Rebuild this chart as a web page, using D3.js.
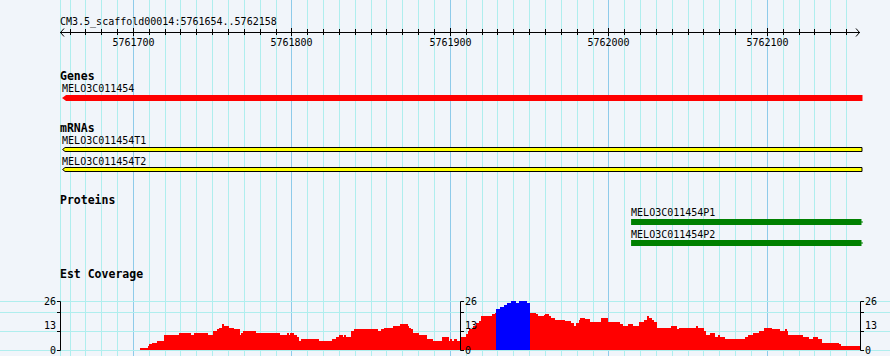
<!DOCTYPE html>
<html>
<head>
<meta charset="utf-8">
<script src="https://cdn.jsdelivr.net/npm/d3@7"></script>
<style>
  html, body { margin: 0; padding: 0; background: #f1f5fa; }
  svg { display: block; }
  text { font-family: "DejaVu Sans Mono", monospace; fill: #000; }
</style>
</head>
<body>
<svg id="chart" width="890" height="356"></svg>
<script>
// ---------- data ----------
const regionName = "CM3.5_scaffold00014";
const regionStart = 5761654;
const regionEnd = 5762158;
const majorTicks = [5761700, 5761800, 5761900, 5762000, 5762100];

const trackTitles = ["Genes", "mRNAs", "Proteins", "Est Coverage"];

const geneNames = ["MELO3C011454"];
const geneStarts = [5761655];
const geneEnds = [5762160];

const mrnaNames = ["MELO3C011454T1", "MELO3C011454T2"];
const mrnaStarts = [5761655, 5761655];
const mrnaEnds = [5762160, 5762160];

const proteinNames = ["MELO3C011454P1", "MELO3C011454P2"];
const proteinStarts = [5762014, 5762014];
const proteinEnds = [5762160, 5762160];

// EST coverage: step starts (offset from regionStart, bp) and coverage values
const covOffsets = [50,55,56,58,61,65,75,82,84,93,96,99,100,102,103,106,109,113,114,115,123,138,143,144,145,147,149,150,152,163,171,174,176,178,179,180,183,185,200,202,204,210,214,219,220,221,222,226,231,235,241,245,246,247,248,250,253,256,257,258,260,262,264,265,272,274,275,277,280,282,284,287,289,294,296,300,301,305,306,308,309,312,318,322,324,325,327,328,331,334,341,345,353,355,358,361,365,368,370,371,373,374,376,385,389,390,401,402,406,407,410,413,415,416,419,432,434,437,441,444,449,454,457,458,459,468,472,475,478,480,491,492];
const covValues  = [1,2,3,4,5,8,9,8,9,8,10,11,12,14,13,12,11,8,9,10,9,8,9,8,9,8,7,5,6,5,6,7,8,7,8,7,10,11,10,11,12,13,14,13,12,11,9,8,6,5,7,5,6,5,6,5,7,8.5,10,11,13,14.5,15.5,18,19,20,22,23,24,25,26,25,26,25,20,19,18,18.5,19,18,17,16,15.5,14.5,13,14.5,16,17,16.5,15,17,15,14,13,14,13,15,16,18,17,16,15,12,13,11,12,13,12,10,8,9,7,8,7,6,7,8,9,10,12,11,10,11,10,8,7,6,7,6,4,3,2];
const covEndOffset = 504;
const covHighlight = [275, 296];   // offsets of the highlighted (blue) stretch
const covMax = 26;
const covTicks = [0, 10, 20, 26];
const covLabels = [0, 13, 26];

// ---------- drawing ----------
const W = 890, H = 356;
const svg = d3.select("#chart");
const crisp = v => Math.floor(v) + 0.5;

const x = d3.scaleLinear().domain([regionStart, regionEnd + 1]).range([60.5, 860.9]);
const yC = d3.scaleLinear().domain([0, covMax]).range([350, 301.3]);

// background
svg.append("rect").attr("width", W).attr("height", H).attr("fill", "#f1f5fa");

// vertical grid
const gridG = svg.append("g");
gridG.append("line").attr("x1", 60.5).attr("x2", 60.5).attr("y1", 0).attr("y2", H)
  .attr("stroke", "#afeeee");
const minorTicks = d3.range(Math.ceil(regionStart / 10) * 10, regionEnd + 1, 10);
gridG.selectAll("line.v").data(minorTicks).join("line")
  .attr("class", "v")
  .attr("x1", d => crisp(x(d))).attr("x2", d => crisp(x(d)))
  .attr("y1", 0).attr("y2", H)
  .attr("stroke", d => d % 100 === 0 ? "#8ecbea" : "#afeeee");

// horizontal grid in coverage track
gridG.selectAll("line.h").data(covTicks).join("line")
  .attr("class", "h")
  .attr("x1", 0).attr("x2", W)
  .attr("y1", d => crisp(yC(d))).attr("y2", d => crisp(yC(d)))
  .attr("stroke", "#afeeee");

// ruler
const ruler = svg.append("g");
ruler.append("text").attr("x", 60).attr("y", 25).attr("font-size", 10)
  .text(`${regionName}:${regionStart}..${regionEnd}`);
ruler.append("line").attr("x1", 60).attr("x2", 860).attr("y1", 32.5).attr("y2", 32.5)
  .attr("stroke", "#000");
ruler.append("path").attr("d", "M64,28.5 L60.5,32.5 L64,36.5").attr("fill", "none").attr("stroke", "#000");
ruler.append("path").attr("d", "M856,28.5 L859.5,32.5 L856,36.5").attr("fill", "none").attr("stroke", "#000");
ruler.selectAll("line.t").data(minorTicks).join("line")
  .attr("class", "t")
  .attr("x1", d => crisp(x(d))).attr("x2", d => crisp(x(d)))
  .attr("y1", d => majorTicks.includes(d) ? 28 : 29)
  .attr("y2", d => majorTicks.includes(d) ? 36 : 35)
  .attr("stroke", "#000");
ruler.selectAll("text.tl").data(majorTicks).join("text")
  .attr("class", "tl")
  .attr("x", d => crisp(x(d))).attr("y", 46).attr("font-size", 10)
  .attr("text-anchor", "middle").text(d => d);

// track titles
const titleY = [80, 132, 204, 277.5];
svg.selectAll("text.title").data(trackTitles).join("text")
  .attr("class", "title")
  .attr("x", 60).attr("y", (d, i) => titleY[i])
  .attr("font-size", 11.5).attr("font-weight", "bold")
  .text(d => d);

// genes
const genes = geneNames.map((n, i) => ({ name: n, s: geneStarts[i], e: geneEnds[i] }));
const gG = svg.append("g");
genes.forEach((g, i) => {
  const x0 = x(g.s), x1 = x(g.e);
  gG.append("path")
    .attr("d", `M${x0},98 L${x0 + 4},95 L${x1},95 L${x1},101 L${x0 + 4},101 Z`)
    .attr("fill", "#ff0000");
  gG.append("text").attr("x", x0).attr("y", 92).attr("font-size", 10).text(g.name);
});

// mRNAs
const mrnas = mrnaNames.map((n, i) => ({ name: n, s: mrnaStarts[i], e: mrnaEnds[i] }));
const mRowY = [147.5, 167.5];
const mLabY = [144, 164.8];
const mG = svg.append("g");
mrnas.forEach((m, i) => {
  const x0 = x(m.s), x1 = x(m.e), y0 = mRowY[i];
  mG.append("path")
    .attr("d", `M${x0 + 0.5},${y0 + 2} L${x0 + 3},${y0} L${x1 - 0.5},${y0} L${x1 - 0.5},${y0 + 4} L${x0 + 3},${y0 + 4} Z`)
    .attr("fill", "#ffff00").attr("stroke", "#000");
  mG.append("text").attr("x", x0).attr("y", mLabY[i]).attr("font-size", 10).text(m.name);
});

// proteins
const prots = proteinNames.map((n, i) => ({ name: n, s: proteinStarts[i], e: proteinEnds[i] }));
const pRowY = [219, 240];
const pLabY = [216, 237.8];
const pG = svg.append("g");
prots.forEach((p, i) => {
  const x0 = x(p.s), x1 = x(p.e), y0 = pRowY[i];
  pG.append("rect").attr("x", x0).attr("y", y0).attr("width", x1 - x0 - 1).attr("height", 6)
    .attr("fill", "#008000");
  pG.append("rect").attr("x", x1 - 1).attr("y", y0 + 2).attr("width", 1).attr("height", 2)
    .attr("fill", "#008000");
  pG.append("text").attr("x", x0).attr("y", pLabY[i]).attr("font-size", 10).text(p.name);
});

// coverage
const cov = covOffsets.map((o, i) => ({
  s: regionStart + o,
  e: regionStart + (i + 1 < covOffsets.length ? covOffsets[i + 1] : covEndOffset),
  v: covValues[i],
  hi: o >= covHighlight[0] && o < covHighlight[1]
}));
svg.append("g").selectAll("rect").data(cov).join("rect")
  .attr("x", d => x(d.s)).attr("width", d => x(d.e) - x(d.s) + 0.3)
  .attr("y", d => yC(d.v)).attr("height", d => yC(0) - yC(d.v))
  .attr("fill", d => d.hi ? "#0000ff" : "#ff0000")
  .attr("shape-rendering", "crispEdges");

// coverage scales (left, middle, right)
const axes = [
  { x: 60.5, dir: -1 },
  { x: Math.round(x((regionStart + regionEnd) / 2)) + 0.5, dir: 1 },
  { x: 860.5, dir: 1 }
];
const axG = svg.append("g");
axes.forEach(a => {
  axG.append("line").attr("x1", a.x).attr("x2", a.x)
    .attr("y1", crisp(yC(covMax))).attr("y2", crisp(yC(0))).attr("stroke", "#000");
  covTicks.forEach(t => {
    axG.append("line").attr("x1", a.x).attr("x2", a.x + a.dir * 3.5)
      .attr("y1", crisp(yC(t))).attr("y2", crisp(yC(t))).attr("stroke", "#000");
  });
  covLabels.forEach(l => {
    axG.append("text")
      .attr("x", a.dir < 0 ? a.x - 4.5 : a.x + 4.5)
      .attr("y", yC(l) + 3.7)
      .attr("font-size", 10)
      .attr("text-anchor", a.dir < 0 ? "end" : "start")
      .text(l);
  });
});
</script>
</body>
</html>
